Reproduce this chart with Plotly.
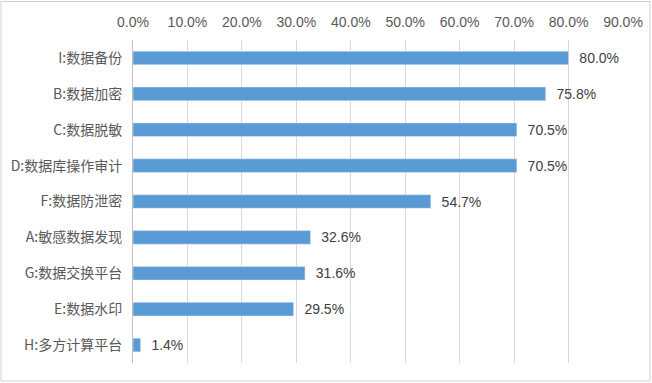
import plotly.graph_objects as go

categories = ["I:数据备份", "B:数据加密", "C:数据脱敏", "D:数据库操作审计", "F:数据防泄密",
              "A:敏感数据发现", "G:数据交换平台", "E:数据水印", "H:多方计算平台"]
values = [80.0, 75.8, 70.5, 70.5, 54.7, 32.6, 31.6, 29.5, 1.4]
tick_vals = [0, 10, 20, 30, 40, 50, 60, 70, 80, 90]
tick_text = [f"{v:.1f}%" for v in tick_vals]

W, H = 652, 383
ml, mr, mt, mb = 133, 29, 40, 20

fig = go.Figure(go.Bar(
    x=values, y=categories, orientation="h",
    marker=dict(color="#5b9bd5"),
    text=[f"  {v:.1f}%" for v in values], textposition="outside",
    constraintext="none",
    textfont=dict(family="Liberation Sans, Arial, sans-serif", size=14, color="#404040"),
    cliponaxis=False,
    hoverinfo="skip",
))

pw = W - ml - mr
ph = H - mt - mb
fig.update_layout(
    width=W, height=H,
    margin=dict(l=ml, r=mr, t=mt, b=mb, autoexpand=False),
    paper_bgcolor="white", plot_bgcolor="white",
    bargap=0.62,
    showlegend=False,
    xaxis=dict(range=[0, 90], side="top", tickvals=tick_vals, ticktext=tick_text,
               showgrid=True, gridcolor="#d9d9d9", gridwidth=1, zeroline=False,
               automargin=False,
               tickfont=dict(family="Liberation Sans, Arial, sans-serif", size=14, color="#595959"),
               ticks="", ticklabelstandoff=9),
    yaxis=dict(autorange="reversed", showline=True, linecolor="#bfbfbf", linewidth=1,
               automargin=False,
               tickfont=dict(family="Noto Sans CJK SC", size=14, color="#595959"),
               ticks="", ticklabelstandoff=7),
    shapes=[dict(type="rect", xref="paper", yref="paper",
                 x0=-(ml - 1) / pw, x1=1 + (mr - 2) / pw,
                 y0=-(mb - 2) / ph, y1=1 + (mt - 1.5) / ph,
                 line=dict(color="#d0d0d0", width=1))],
)

fig.write_html("out.html", config={"displayModeBar": False},
               post_script="document.body.style.margin='0';document.body.style.overflow='hidden';")
